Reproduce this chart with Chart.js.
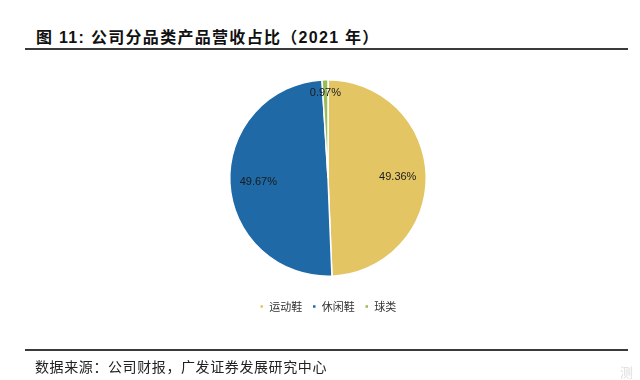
<!DOCTYPE html>
<html><head><meta charset="utf-8">
<script src="https://cdn.jsdelivr.net/npm/chart.js@4/dist/chart.umd.min.js"></script>
<style>
html,body{margin:0;padding:0;background:#fff;width:640px;height:380px;overflow:hidden;}
#title{position:absolute;left:36px;top:24px;font:bold 16px "Liberation Sans","Noto Sans CJK SC",sans-serif;letter-spacing:1.3px;color:#111;white-space:nowrap;}
#l1{position:absolute;left:25px;top:48px;width:603px;height:2px;background:#3a3a3a;}
#l2{position:absolute;left:25px;top:349px;width:603px;height:2px;background:#3a3a3a;}
#src{position:absolute;left:35px;top:356px;font:14px "Noto Sans CJK SC",sans-serif;letter-spacing:0.6px;color:#222;white-space:nowrap;}
#wm{position:absolute;left:620px;top:362px;font:13px "Noto Sans CJK SC",sans-serif;color:#ddd;}
#wrap{position:absolute;left:0;top:0;width:640px;height:380px;}
</style></head><body>
<div id="title">图 11: 公司分品类产品营收占比（2021 年）</div>
<div id="l1"></div>
<div id="wrap"><canvas id="c" width="640" height="380"></canvas></div>
<div id="l2"></div>
<div id="src">数据来源：公司财报，广发证券发展研究中心</div>
<div id="wm">测</div>
<script>
const categories = ["运动鞋", "休闲鞋", "球类"];
const shares = [49.36, 49.67, 0.97];
const colors = ["#E3C564", "#1E69A6", "#9BBB59"];

const labelPlugin = {
  id: 'sliceLabels',
  afterDatasetsDraw(chart) {
    const ctx = chart.ctx;
    const meta = chart.getDatasetMeta(0);
    ctx.save();
    ctx.font = '11px "Liberation Sans", Arial, sans-serif';
    ctx.fillStyle = '#1a1a1a';
    ctx.textAlign = 'center';
    ctx.textBaseline = 'middle';
    meta.data.forEach((arc, i) => {
      const p = arc.getProps(['x','y','startAngle','endAngle','outerRadius'], true);
      const mid = (p.startAngle + p.endAngle) / 2;
      const f = shares[i] < 5 ? 0.87 : 0.71;
      const x = p.x + Math.cos(mid) * p.outerRadius * f;
      const y = p.y + Math.sin(mid) * p.outerRadius * f;
      ctx.fillText(shares[i].toFixed(2) + '%', x, y);
    });
    ctx.restore();
  }
};

new Chart(document.getElementById('c'), {
  type: 'pie',
  data: {
    labels: categories,
    datasets: [{
      data: shares,
      backgroundColor: colors,
      borderColor: '#ffffff',
      borderWidth: 1.5
    }]
  },
  options: {
    responsive: false,
    animation: false,
    layout: { padding: { top: 79, bottom: 58, left: 16, right: 0 } },
    plugins: {
      legend: {
        position: 'bottom',
        title: { display: true, text: ' ', font: { size: 10 }, padding: { top: 1, bottom: 1 } },
        labels: {
          usePointStyle: true,
          pointStyle: 'rect',
          boxWidth: 4,
          boxHeight: 4,
          padding: 10,
          color: '#333',
          font: { size: 11, family: '"Noto Sans CJK SC", sans-serif' }
        }
      },
      tooltip: { enabled: false }
    }
  },
  plugins: [labelPlugin]
});
</script>
</body></html>
